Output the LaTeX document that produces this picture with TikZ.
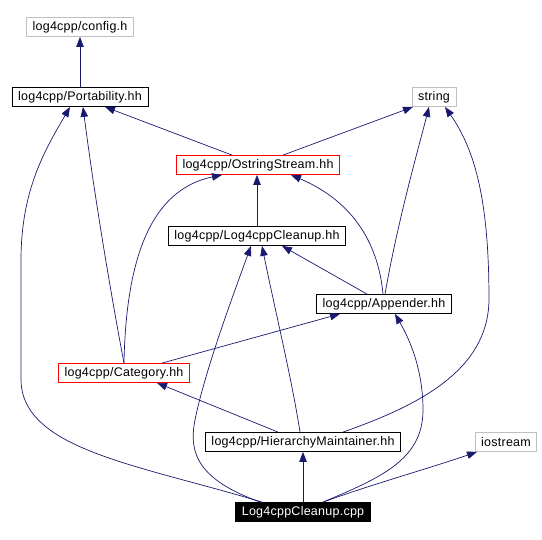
\documentclass[tikz,border=0pt]{standalone}
\usepackage{fontspec}
\newfontfamily\graphfont[LetterSpace=2]{Liberation Sans}
\usetikzlibrary{positioning,arrows.meta}
\definecolor{edgenavy}{HTML}{191970}
\definecolor{sysgray}{HTML}{BFBFBF}

\begin{document}
\begin{tikzpicture}[x=1pt, y=-1pt,
    hdr/.style={draw=black, line width=0.8pt, fill=white, font=\graphfont\fontsize{12.5}{14}\selectfont, minimum height=19pt, inner xsep=6pt, inner ysep=0pt},
    syshdr/.style={hdr, draw=sysgray},
    redhdr/.style={hdr, draw=red},
    rootfile/.style={hdr, fill=black, text=white},
    dep/.style={-{Triangle[length=10pt,width=7.5pt]}, draw=edgenavy, line width=0.7pt}]
  \useasboundingbox (0,0) rectangle (542,540);
  \node[syshdr] (config) at (80,27)  {log4cpp/config.h};
  \node[hdr]    (port)   at (80,97)  {log4cpp/Portability.hh};
  \node[syshdr] (str)    at (434,97) {string};
  \node[redhdr] (oss)    at (258,165) {log4cpp/OstringStream.hh};
  \node[hdr]    (lch)    at (257,236) {log4cpp/Log4cppCleanup.hh};
  \node[hdr]    (app)    at (384,304) {log4cpp/Appender.hh};
  \node[redhdr] (cat)    at (124,373) {log4cpp/Category.hh};
  \node[hdr]    (hm)     at (303,442) {log4cpp/HierarchyMaintainer.hh};
  \node[syshdr] (ios)    at (506,442) {iostream};
  \node[rootfile] (cpp)  at (303,512) {Log4cppCleanup.cpp};
  % straight includes
  \draw[dep] (port) -- (config);
  \draw[dep] ([xshift=-26pt]oss.north) -- ([xshift=25pt]port.south);
  \draw[dep] ([xshift=25pt]oss.north) -- ([xshift=-21pt]str.south);
  \draw[dep] (lch.north) -- (lch.north |- oss.south);
  \draw[dep] ([xshift=-17pt]app.north) -- ([xshift=25pt]lch.south);
  \draw[dep] ([xshift=38pt]cat.north) -- ([xshift=-44pt]app.south);
  \draw[dep] ([xshift=-25pt]hm.north) -- ([xshift=33pt]cat.south);
  \draw[dep] (cpp) -- (hm);
  % curved includes
  \draw[dep] ([xshift=-1pt]app.north) .. controls (378,240) and (350,200) .. ([xshift=33pt]oss.south);
  \draw[dep] ([xshift=1pt]app.north) .. controls (398,220) and (418,150) .. ([xshift=-5pt]str.south);
  \draw[dep] (cat.north) .. controls (112,300) and (95,200) .. ([xshift=3pt]port.south);
  \draw[dep] (cat.north) .. controls (126,260) and (150,190) .. ([xshift=-36pt]oss.south);
  \draw[dep] ([xshift=-3pt]hm.north) .. controls (292,380) and (275,310) .. ([xshift=5pt]lch.south);
  \draw[dep] ([xshift=40pt]hm.north) .. controls (420,405) and (488,370) .. (489,300)
    .. controls (489,200) and (475,150) .. ([xshift=11pt]str.south);
  \draw[dep] ([xshift=-41pt]cpp.north) .. controls (140,465) and (22,450) .. (21,380)
    -- (21,260) .. controls (21,190) and (45,150) .. ([xshift=-10pt]port.south);
  \draw[dep] ([xshift=-43pt]cpp.north) .. controls (200,480) and (188,455) .. (195,420)
    .. controls (205,370) and (235,290) .. ([xshift=-6pt]lch.south);
  \draw[dep] ([xshift=20pt]cpp.north) .. controls (380,478) and (423,460) .. (423,410)
    .. controls (423,370) and (410,340) .. ([xshift=11pt]app.south);
  \draw[dep] ([xshift=20pt]cpp.north) .. controls (370,485) and (430,468) .. ([xshift=-29pt]ios.south);
\end{tikzpicture}
\end{document}
